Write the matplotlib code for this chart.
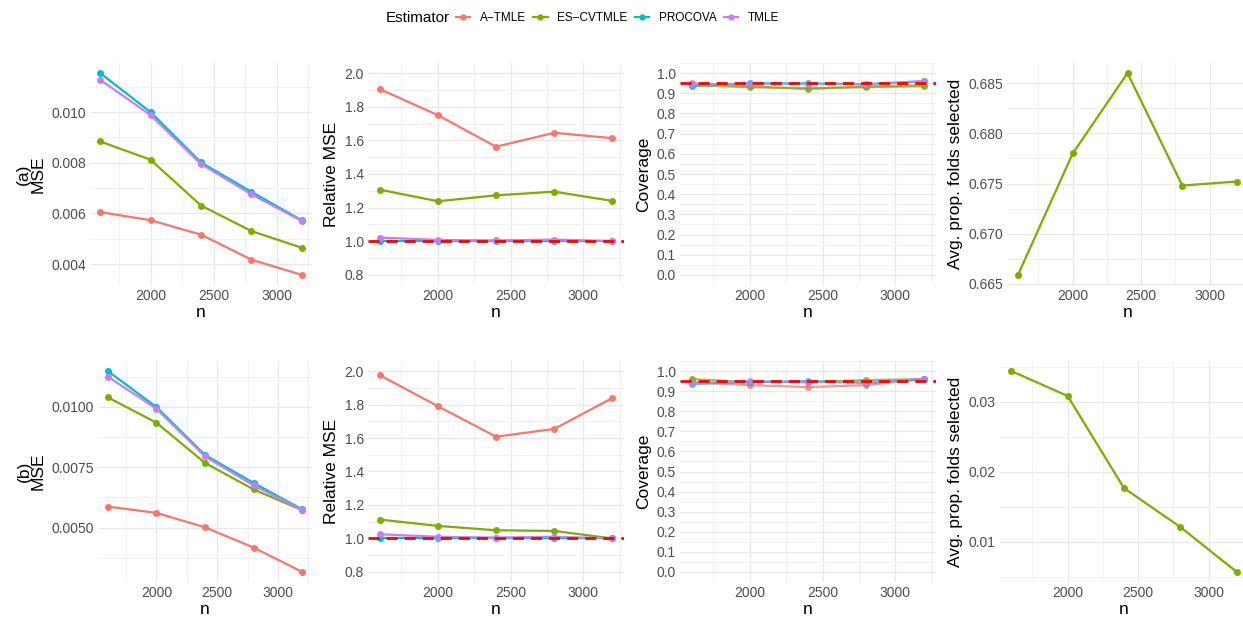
import matplotlib
matplotlib.use('Agg')
from matplotlib import pyplot as plt
from matplotlib.lines import Line2D
from matplotlib.ticker import MultipleLocator, FormatStrFormatter

plt.rcParams['font.family'] = ['Liberation Sans', 'DejaVu Sans']

# 数据
n = [1600, 2000, 2400, 2800, 3200]
estimators = ['A−TMLE', 'ES−CVTMLE', 'PROCOVA', 'TMLE']
colors = ['#F8766D', '#7CAE00', '#00BFC4', '#C77CFF']

# (a) 行
mse_a_atmle = [0.00605, 0.00573, 0.00516, 0.00417, 0.00357]
mse_a_escv = [0.00884, 0.00812, 0.00631, 0.00530, 0.00464]
mse_a_procova = [0.01154, 0.01000, 0.00801, 0.00685, 0.00572]
mse_a_tmle = [0.01128, 0.00988, 0.00795, 0.00675, 0.00570]

rel_a_atmle = [1.905, 1.750, 1.562, 1.645, 1.613]
rel_a_escv = [1.307, 1.238, 1.273, 1.295, 1.240]
rel_a_procova = [1.0, 1.0, 1.0, 1.0, 1.0]
rel_a_tmle = [1.022, 1.008, 1.005, 1.010, 1.001]

cov_a_atmle = [0.950, 0.935, 0.920, 0.935, 0.940]
cov_a_escv = [0.940, 0.930, 0.925, 0.930, 0.935]
cov_a_procova = [0.935, 0.950, 0.950, 0.945, 0.960]
cov_a_tmle = [0.945, 0.945, 0.945, 0.945, 0.960]

folds_a = [0.6659, 0.6780, 0.6860, 0.6748, 0.6752]

# (b) 行
mse_b_atmle = [0.00587, 0.00561, 0.00501, 0.00417, 0.00316]
mse_b_escv = [0.01040, 0.00935, 0.00768, 0.00658, 0.00572]
mse_b_procova = [0.01149, 0.01000, 0.00801, 0.00685, 0.00575]
mse_b_tmle = [0.01126, 0.00993, 0.00795, 0.00675, 0.00572]

rel_b_atmle = [1.976, 1.790, 1.608, 1.654, 1.839]
rel_b_escv = [1.113, 1.075, 1.049, 1.045, 1.000]
rel_b_procova = [1.0, 1.0, 1.0, 1.0, 1.0]
rel_b_tmle = [1.025, 1.010, 1.005, 1.010, 1.000]

cov_b_atmle = [0.945, 0.930, 0.920, 0.930, 0.960]
cov_b_escv = [0.960, 0.945, 0.945, 0.955, 0.960]
cov_b_procova = [0.935, 0.945, 0.950, 0.940, 0.960]
cov_b_tmle = [0.940, 0.950, 0.945, 0.945, 0.960]

folds_b = [0.03443, 0.03086, 0.01767, 0.01210, 0.00567]

W, H = 1243, 617
GRID_MAJOR = '#E8E8E8'
GRID_MINOR = '#F1F1F1'
TICK_COLOR = '#4D4D4D'


def px_axes(fig, left, right, top, bottom):
    # 像素坐标 -> 图坐标
    return fig.add_axes([left / W, 1 - bottom / H, (right - left) / W, (bottom - top) / H])


def style_axes(ax, ylabel):
    for s in ax.spines.values():
        s.set_visible(False)
    ax.set_xlim(1520, 3280)
    ax.xaxis.set_major_locator(MultipleLocator(500))
    ax.xaxis.set_minor_locator(MultipleLocator(250))
    ax.set_xticks([2000, 2500, 3000])
    ax.grid(True, which='major', color=GRID_MAJOR, linewidth=0.9)
    ax.grid(True, which='minor', color=GRID_MINOR, linewidth=0.7)
    ax.set_axisbelow(True)
    ax.tick_params(which='both', length=0, labelsize=10, labelcolor=TICK_COLOR, pad=3)
    ax.set_xlabel('n', fontsize=12.5, labelpad=1)
    ax.set_ylabel(ylabel, fontsize=12.5, labelpad=4, linespacing=0.95)


def draw_lines(ax, series, alpha=1.0):
    for ys, c in zip(series, colors):
        ax.plot(n, ys, '-', color=c, lw=1.6, marker='o', ms=4, alpha=alpha, zorder=3)


fig = plt.figure(figsize=(W / 100, H / 100), dpi=100)

rows = [
    dict(tag='(a)', top=63, bottom=285, p1_left=90, p4_left=1007,
         mse=[mse_a_atmle, mse_a_escv, mse_a_procova, mse_a_tmle],
         rel=[rel_a_atmle, rel_a_escv, rel_a_procova, rel_a_tmle],
         cov=[cov_a_atmle, cov_a_escv, cov_a_procova, cov_a_tmle],
         folds=folds_a, mse_step=0.002, mse_fmt='%.3f', fold_step=0.005, fold_fmt='%.3f'),
    dict(tag='(b)', top=361, bottom=582, p1_left=98, p4_left=1000,
         mse=[mse_b_atmle, mse_b_escv, mse_b_procova, mse_b_tmle],
         rel=[rel_b_atmle, rel_b_escv, rel_b_procova, rel_b_tmle],
         cov=[cov_b_atmle, cov_b_escv, cov_b_procova, cov_b_tmle],
         folds=folds_b, mse_step=0.0025, mse_fmt='%.4f', fold_step=0.01, fold_fmt='%.2f'),
]

for r in rows:
    # MSE
    ax = px_axes(fig, r['p1_left'], 312, r['top'], r['bottom'])
    draw_lines(ax, r['mse'])
    ax.margins(y=0.05)
    ax.yaxis.set_major_locator(MultipleLocator(r['mse_step']))
    ax.yaxis.set_minor_locator(MultipleLocator(r['mse_step'] / 2))
    ax.yaxis.set_major_formatter(FormatStrFormatter(r['mse_fmt']))
    style_axes(ax, r['tag'] + '\nMSE')

    # Relative MSE
    ax = px_axes(fig, 368, 624, r['top'], r['bottom'])
    draw_lines(ax, r['rel'])
    ax.axhline(1.0, color='red', ls=(0, (4, 2.5)), lw=2, zorder=4)
    ax.set_ylim(0.74, 2.06)
    ax.yaxis.set_major_locator(MultipleLocator(0.2))
    ax.yaxis.set_minor_locator(MultipleLocator(0.1))
    ax.yaxis.set_major_formatter(FormatStrFormatter('%.1f'))
    style_axes(ax, 'Relative MSE')

    # Coverage
    ax = px_axes(fig, 680, 936, r['top'], r['bottom'])
    draw_lines(ax, r['cov'], alpha=0.75)
    ax.axhline(0.95, color='red', ls=(0, (4, 2.5)), lw=2, zorder=4)
    ax.set_ylim(-0.05, 1.05)
    ax.yaxis.set_major_locator(MultipleLocator(0.1))
    ax.yaxis.set_minor_locator(MultipleLocator(0.05))
    ax.yaxis.set_major_formatter(FormatStrFormatter('%.1f'))
    style_axes(ax, 'Coverage')

    # 折数比例
    ax = px_axes(fig, r['p4_left'], 1248, r['top'], r['bottom'])
    ax.plot(n, r['folds'], '-', color=colors[1], lw=1.6, marker='o', ms=4, zorder=3)
    ax.margins(y=0.05)
    ax.yaxis.set_major_locator(MultipleLocator(r['fold_step']))
    ax.yaxis.set_minor_locator(MultipleLocator(r['fold_step'] / 2))
    ax.yaxis.set_major_formatter(FormatStrFormatter(r['fold_fmt']))
    style_axes(ax, 'Avg. prop. folds selected')

# 图例
handles = [Line2D([], [], color=c, lw=1.6, marker='o', ms=3.5) for c in colors]
fig.text(386 / W, 1 - 18 / H, 'Estimator', fontsize=11, ha='left', va='center')
fig.legend(handles, estimators, loc='center left', bbox_to_anchor=(456 / W, 1 - 18 / H),
           ncol=4, frameon=False, fontsize=8.5, handlelength=1.2, handletextpad=0.8,
           columnspacing=0.65, borderpad=0, borderaxespad=0)

fig.savefig('out.png', dpi=100)
